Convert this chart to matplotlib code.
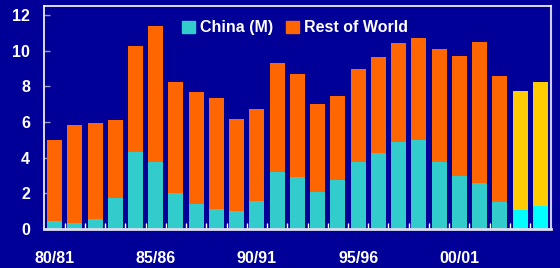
import matplotlib
matplotlib.use('Agg')
import matplotlib.pyplot as plt
import numpy as np

NAVY = '#000099'
CHINA = '#33CCCC'
ROW = '#FF6600'
CHINA_F = '#00FFFF'
ROW_F = '#FFCC00'

seasons = ['80/81', '81/82', '82/83', '83/84', '84/85', '85/86', '86/87', '87/88',
           '88/89', '89/90', '90/91', '91/92', '92/93', '93/94', '94/95', '95/96',
           '96/97', '97/98', '98/99', '99/00', '00/01', '01/02', '02/03', '03/04', '04/05']
totals = [5.0, 5.83, 5.94, 6.11, 10.26, 11.38, 8.24, 7.68, 7.35, 6.17, 6.73, 9.31, 8.69,
          7.01, 7.46, 8.97, 9.65, 10.43, 10.71, 10.1, 9.7, 10.49, 8.58, 7.74, 8.24]
china = [0.45, 0.34, 0.56, 1.74, 4.32, 3.76, 2.02, 1.4, 1.12, 1.01, 1.57, 3.2, 2.92,
         2.08, 2.75, 3.76, 4.26, 4.88, 4.99, 3.76, 2.97, 2.58, 1.51, 1.07, 1.29]
n_forecast = 2

china = np.array(china)
rest = np.array(totals) - china
x = np.arange(len(seasons))
n = len(seasons)
c_col = [CHINA] * (n - n_forecast) + [CHINA_F] * n_forecast
r_col = [ROW] * (n - n_forecast) + [ROW_F] * n_forecast

plt.rcParams['font.family'] = 'Liberation Sans'
plt.rcParams['font.weight'] = 'bold'

fig = plt.figure(figsize=(5.6, 2.68), dpi=100, facecolor=NAVY)
ax = fig.add_axes([0.0786, 0.1455, 0.905, 0.832])
ax.set_facecolor(NAVY)

ax.bar(x, china, 0.74, color=c_col, label='China (M)', zorder=2)
ax.bar(x, rest, 0.74, bottom=china, color=r_col, label='Rest of World', zorder=2)

ax.set_xlim(-0.52, 24.52)
ax.set_ylim(0, 12.5)
ax.set_yticks(range(0, 13, 2))
ax.set_xticks(x[::5])
ax.set_xticklabels(seasons[::5])
ax.set_xticks(x[:-1] + 0.5, minor=True)

ax.tick_params(axis='y', colors='#9999CC', direction='in', length=4, width=1,
               labelcolor='white', labelsize=11.5, pad=10)
ax.tick_params(axis='x', which='major', length=0, labelcolor='white', labelsize=11.5, pad=15.5)
ax.tick_params(axis='x', which='minor', colors='white', direction='in', length=4, width=1)

for s in ['left', 'top']:
    ax.spines[s].set_color('white')
    ax.spines[s].set_linewidth(1.2)
ax.spines['right'].set_color('#CCCCEE')
ax.spines['right'].set_linewidth(1.5)
ax.spines['bottom'].set_color('#DDDDEE')
ax.spines['bottom'].set_linewidth(2)

leg = ax.legend(loc='upper center', bbox_to_anchor=(0.495, 1.0), ncol=2, frameon=False,
                fontsize=11.5, handlelength=0.85, handleheight=0.85, handletextpad=0.3,
                columnspacing=0.8, labelcolor='white')
leg.legend_handles[0].set_color(CHINA)
leg.legend_handles[1].set_color(ROW)

fig.savefig('out.png', dpi=100, facecolor=NAVY)
